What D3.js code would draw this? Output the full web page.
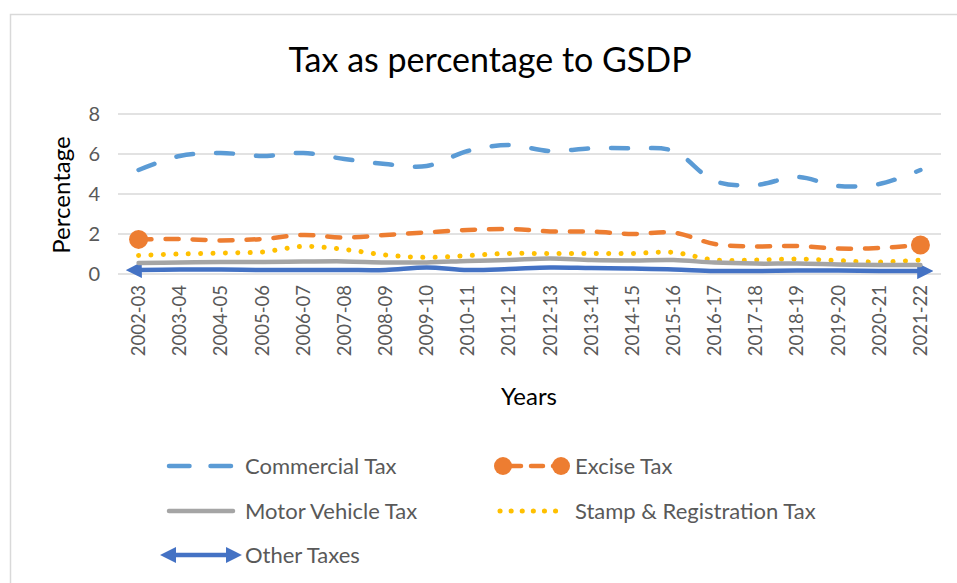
<!DOCTYPE html>
<html>
<head>
<meta charset="utf-8">
<script src="https://cdn.jsdelivr.net/npm/d3@7"></script>
<style>
  body { margin: 0; background: #fff; }
  svg { display: block; font-family: Lato, "Open Sans", sans-serif; }
</style>
</head>
<body>
<svg id="chart"></svg>
<script>
// chart values
const years = ["2002-03","2003-04","2004-05","2005-06","2006-07","2007-08","2008-09","2009-10","2010-11","2011-12",
               "2012-13","2013-14","2014-15","2015-16","2016-17","2017-18","2018-19","2019-20","2020-21","2021-22"];
const commercialTax = [5.2, 5.9, 6.05, 5.9, 6.05, 5.75, 5.5, 5.4, 6.15, 6.45, 6.15, 6.28, 6.28, 6.15, 4.65, 4.45, 4.85, 4.4, 4.5, 5.2];
const exciseTax = [1.73, 1.75, 1.68, 1.75, 1.95, 1.82, 1.95, 2.08, 2.2, 2.25, 2.13, 2.12, 2.0, 2.07, 1.5, 1.38, 1.4, 1.27, 1.3, 1.45];
const motorVehicleTax = [0.55, 0.57, 0.6, 0.6, 0.62, 0.63, 0.58, 0.58, 0.65, 0.7, 0.78, 0.7, 0.68, 0.7, 0.57, 0.52, 0.52, 0.48, 0.45, 0.45];
const stampTax = [0.93, 1.0, 1.05, 1.1, 1.38, 1.23, 0.95, 0.83, 0.92, 1.03, 1.02, 1.02, 1.03, 1.08, 0.7, 0.7, 0.75, 0.67, 0.6, 0.7];
const otherTaxes = [0.2, 0.22, 0.22, 0.2, 0.2, 0.2, 0.2, 0.33, 0.2, 0.25, 0.33, 0.3, 0.27, 0.23, 0.15, 0.15, 0.17, 0.17, 0.15, 0.15];
const yTicks = [0, 2, 4, 6, 8];

const width = 957, height = 583;
const plot = {left: 118, right: 941, top: 114, bottom: 274};

const svg = d3.select("#chart").attr("width", width).attr("height", height);

// chart frame (runs off the right/bottom of the picture)
svg.append("rect")
    .attr("x", 10.5).attr("y", 14.5)
    .attr("width", 980).attr("height", 600)
    .attr("fill", "#fff").attr("stroke", "#d9d9d9").attr("stroke-width", 1.5);

const x = d3.scaleBand().domain(years).range([plot.left, plot.right]);
const y = d3.scaleLinear().domain([0, 8]).range([plot.bottom, plot.top]);
const xc = d => x(d) + x.bandwidth() / 2;

// gridlines
svg.append("g")
    .selectAll("line")
    .data(yTicks)
    .join("line")
      .attr("x1", plot.left).attr("x2", plot.right)
      .attr("y1", d => y(d)).attr("y2", d => y(d))
      .attr("stroke", "#d9d9d9").attr("stroke-width", 1.5);

// y axis
const yAxis = svg.append("g")
    .attr("transform", `translate(${plot.left},0)`)
    .call(d3.axisLeft(y).tickValues(yTicks).tickSize(0).tickPadding(18));
yAxis.select(".domain").remove();
yAxis.selectAll("text").attr("font-size", 20).attr("fill", "#595959").attr("font-family", "Lato");

// x axis
const xAxis = svg.append("g")
    .attr("transform", `translate(0,${plot.bottom})`)
    .call(d3.axisBottom(x).tickSize(0));
xAxis.select(".domain").remove();
xAxis.selectAll("text")
    .attr("font-size", 18.5).attr("fill", "#595959").attr("font-family", "Lato")
    .attr("transform", "rotate(-90)")
    .attr("text-anchor", "end")
    .attr("x", -11).attr("y", 0).attr("dy", "0.35em");

// titles
svg.append("text")
    .attr("x", 490).attr("y", 72)
    .attr("text-anchor", "middle")
    .attr("font-size", 34)
    .text("Tax as percentage to GSDP");

svg.append("text")
    .attr("transform", "translate(70,195) rotate(-90)")
    .attr("text-anchor", "middle")
    .attr("font-size", 24)
    .text("Percentage");

svg.append("text")
    .attr("x", 529).attr("y", 405)
    .attr("text-anchor", "middle")
    .attr("font-size", 24)
    .text("Years");

// arrow markers for Other Taxes
const defs = svg.append("defs");
defs.append("marker")
    .attr("id", "arrowEnd")
    .attr("viewBox", "0 0 10 10")
    .attr("refX", 2).attr("refY", 5)
    .attr("markerWidth", 3.6).attr("markerHeight", 3.6)
    .attr("orient", "auto")
  .append("path").attr("d", "M0,0 L10,5 L0,10 Z").attr("fill", "#4472c4");
defs.append("marker")
    .attr("id", "arrowStart")
    .attr("viewBox", "0 0 10 10")
    .attr("refX", 8).attr("refY", 5)
    .attr("markerWidth", 3.6).attr("markerHeight", 3.6)
    .attr("orient", "auto")
  .append("path").attr("d", "M10,0 L0,5 L10,10 Z").attr("fill", "#4472c4");

const series = [
  {name: "Commercial Tax", values: commercialTax, color: "#5b9bd5", dash: "17,23", width: 4.5},
  {name: "Excise Tax", values: exciseTax, color: "#ed7d31", dash: "13,14", width: 4.5, dots: true},
  {name: "Motor Vehicle Tax", values: motorVehicleTax, color: "#a5a5a5", dash: null, width: 4.5},
  {name: "Stamp & Registration Tax", values: stampTax, color: "#ffc000", dash: "0.1,12.3", width: 5},
  {name: "Other Taxes", values: otherTaxes, color: "#4472c4", dash: null, width: 4.5, arrows: true}
];

const line = d3.line()
    .x((d, i) => xc(years[i]))
    .y(d => y(d))
    .curve(d3.curveCatmullRom.alpha(0.5));

// draw in reverse so Commercial Tax sits on top like Excel
series.slice().reverse().forEach(s => {
  const p = svg.append("path")
      .datum(s.values)
      .attr("d", line)
      .attr("fill", "none")
      .attr("stroke", s.color)
      .attr("stroke-width", s.width)
      .attr("stroke-linecap", "round")
      .attr("stroke-linejoin", "round");
  if (s.dash) p.attr("stroke-dasharray", s.dash);
  if (s.arrows) p.attr("marker-start", "url(#arrowStart)").attr("marker-end", "url(#arrowEnd)");
  if (s.dots) {
    const ends = [0, s.values.length - 1];
    svg.append("g").selectAll("circle")
      .data(ends)
      .join("circle")
        .attr("cx", i => xc(years[i]))
        .attr("cy", i => y(s.values[i]))
        .attr("r", 9.5)
        .attr("fill", s.color);
  }
});

// legend
const legendPos = [
  {x: 167, y: 466}, {x: 497, y: 466},
  {x: 167, y: 511}, {x: 497, y: 511},
  {x: 167, y: 555}
];
const legend = svg.append("g");
series.forEach((s, i) => {
  const g = legend.append("g").attr("transform", `translate(${legendPos[i].x},${legendPos[i].y})`);
  const len = 68;
  if (s.arrows) {
    g.append("line")
      .attr("x1", 6).attr("x2", len - 6)
      .attr("stroke", s.color).attr("stroke-width", s.width)
      .attr("marker-start", "url(#arrowStart)").attr("marker-end", "url(#arrowEnd)");
  } else if (s.dots) {
    g.append("line")
      .attr("x1", 6).attr("x2", len - 4)
      .attr("stroke", s.color).attr("stroke-width", s.width)
      .attr("stroke-linecap", "round").attr("stroke-dasharray", "12,10")
      .attr("stroke-dashoffset", -6);
    g.selectAll("circle").data([6, len - 4]).join("circle")
      .attr("cx", d => d).attr("r", 9).attr("fill", s.color);
  } else {
    const ln = g.append("line")
      .attr("x1", s.dash === "0.1,12.3" ? 3 : 2).attr("x2", s.name === "Commercial Tax" ? 64 : len - 2)
      .attr("stroke", s.color).attr("stroke-width", s.width)
      .attr("stroke-linecap", "round");
    if (s.name === "Commercial Tax") ln.attr("stroke-dasharray", "20.5,21");
    else if (s.dash) ln.attr("stroke-dasharray", "0.1,11");
  }
  g.append("text")
    .attr("x", len + 10).attr("y", 0).attr("dy", "0.35em")
    .attr("font-size", 22).attr("fill", "#595959")
    .text(s.name);
});
</script>
</body>
</html>
